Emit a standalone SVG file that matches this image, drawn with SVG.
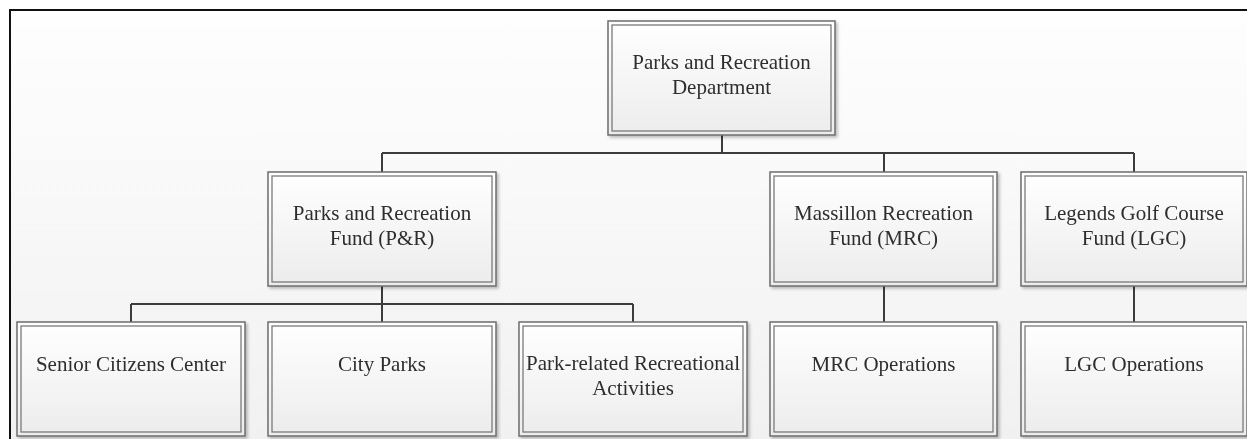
<svg xmlns="http://www.w3.org/2000/svg" width="1247" height="439" viewBox="0 0 1247 439">
<style>
.outer{fill:url(#nf);stroke:#6e6e6e;stroke-width:1.5}
.inner{fill:none;stroke:#7a7a7a;stroke-width:1.3}
.t{font-family:"Liberation Serif","Times New Roman",serif;font-size:21px;fill:#2e2e2e;text-anchor:middle}
.c{fill:none;stroke:#3c3c3c;stroke-width:2}
</style>
<defs>
<linearGradient id="bg" x1="0" y1="0" x2="0" y2="1">
<stop offset="0" stop-color="#fefefe"/>
<stop offset="1" stop-color="#f1f1f1"/>
</linearGradient>
<linearGradient id="nf" x1="0" y1="0" x2="0" y2="1">
<stop offset="0" stop-color="#ffffff"/>
<stop offset="1" stop-color="#ececec"/>
</linearGradient>
<filter id="sh" x="-5%" y="-5%" width="115%" height="120%">
<feDropShadow dx="2" dy="2" stdDeviation="1.5" flood-color="#000" flood-opacity="0.25"/>
</filter>
</defs>
<rect x="0" y="0" width="1247" height="439" fill="#ffffff"/>
<rect x="10" y="10" width="1240" height="432" fill="url(#bg)"/>
<path d="M10 439 V10 H1247" fill="none" stroke="#111" stroke-width="2"/>

<g id="connectors">
<path class="c" d="M722 135 V153"/>
<path class="c" d="M382 153 H1134"/>
<path class="c" d="M382 153 V172 M884 153 V172 M1134 153 V172"/>
<path class="c" d="M382 286 V304 M131 304 H633 M131 304 V322 M382 304 V322 M633 304 V322"/>
<path class="c" d="M884 286 V322 M1134 286 V322"/>
</g>

<g id="dept" filter="url(#sh)">
<rect class="outer" x="608" y="21" width="227" height="114"/>
<rect class="inner" x="612" y="25" width="219" height="106"/>
<text class="t" x="721.5" y="69">Parks and Recreation</text>
<text class="t" x="721.5" y="94">Department</text>
</g>

<g id="pr-fund" filter="url(#sh)">
<rect class="outer" x="268" y="172" width="228" height="114"/>
<rect class="inner" x="272" y="176" width="220" height="106"/>
<text class="t" x="382" y="220">Parks and Recreation</text>
<text class="t" x="382" y="245">Fund (P&amp;R)</text>
</g>

<g id="mrc-fund" filter="url(#sh)">
<rect class="outer" x="770" y="172" width="227" height="114"/>
<rect class="inner" x="774" y="176" width="219" height="106"/>
<text class="t" x="883.5" y="220">Massillon Recreation</text>
<text class="t" x="883.5" y="245">Fund (MRC)</text>
</g>

<g id="lgc-fund" filter="url(#sh)">
<rect class="outer" x="1021" y="172" width="226" height="114"/>
<rect class="inner" x="1025" y="176" width="218" height="106"/>
<text class="t" x="1134" y="220">Legends Golf Course</text>
<text class="t" x="1134" y="245">Fund (LGC)</text>
</g>

<g id="senior" filter="url(#sh)">
<rect class="outer" x="17" y="322" width="228" height="114"/>
<rect class="inner" x="21" y="326" width="220" height="106"/>
<text class="t" x="131" y="371">Senior Citizens Center</text>
</g>

<g id="city-parks" filter="url(#sh)">
<rect class="outer" x="268" y="322" width="228" height="114"/>
<rect class="inner" x="272" y="326" width="220" height="106"/>
<text class="t" x="382" y="371">City Parks</text>
</g>

<g id="park-rec" filter="url(#sh)">
<rect class="outer" x="519" y="322" width="228" height="114"/>
<rect class="inner" x="523" y="326" width="220" height="106"/>
<text class="t" x="633" y="370">Park-related Recreational</text>
<text class="t" x="633" y="395">Activities</text>
</g>

<g id="mrc-ops" filter="url(#sh)">
<rect class="outer" x="770" y="322" width="227" height="114"/>
<rect class="inner" x="774" y="326" width="219" height="106"/>
<text class="t" x="883.5" y="371">MRC Operations</text>
</g>

<g id="lgc-ops" filter="url(#sh)">
<rect class="outer" x="1021" y="322" width="226" height="114"/>
<rect class="inner" x="1025" y="326" width="218" height="106"/>
<text class="t" x="1134" y="371">LGC Operations</text>
</g>
</svg>
